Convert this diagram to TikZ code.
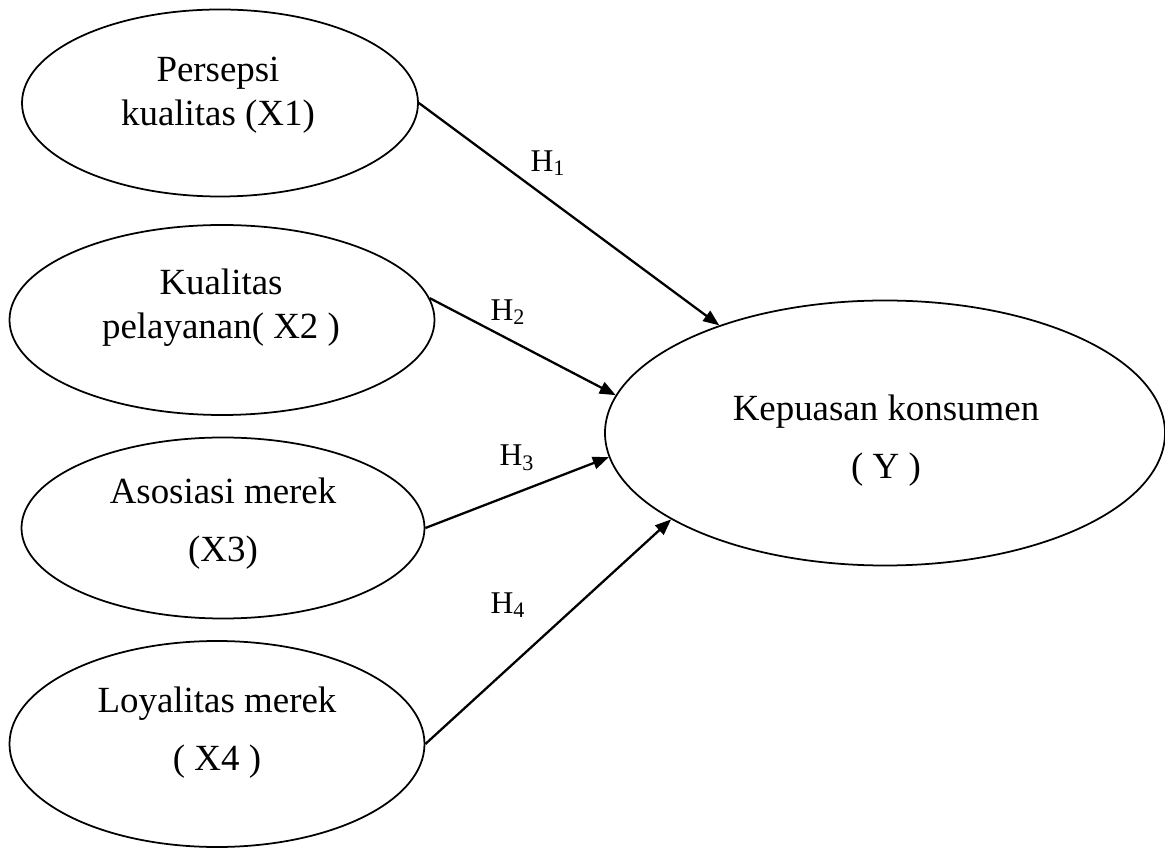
\documentclass[tikz,border=0pt]{standalone}
\usepackage{fontspec}
\setmainfont{Liberation Serif}
\usetikzlibrary{shapes.geometric,arrows.meta}

\begin{document}
\begin{tikzpicture}[oval/.style={ellipse,draw,line width=1pt,inner sep=0pt},
  lbl/.style={align=center,font=\fontsize{21}{25}\selectfont},
  hyp/.style={-{Triangle[length=0.32cm,width=0.25cm]},line width=1.3pt},
  hlbl/.style={font=\fontsize{18}{20}\selectfont}]

\useasboundingbox (0,0) rectangle (23.3,17);

% variabel bebas
\node[oval,minimum width=7.92cm,minimum height=3.74cm] (x1) at (4.40,14.94) {};
\node[oval,minimum width=8.50cm,minimum height=3.80cm] (x2) at (4.44,10.60) {};
\node[oval,minimum width=8.06cm,minimum height=3.62cm] (x3) at (4.46,6.44) {};
\node[oval,minimum width=8.30cm,minimum height=4.12cm] (x4) at (4.34,2.12) {};

\node[lbl] (t1) at (4.36,15.10) {Persepsi\\kualitas (X1)};
\node[lbl] (t2) at (4.42,10.85) {Kualitas\\pelayanan( X2 )};
\node[lbl] (t3) at (4.46,6.52) {Asosiasi merek\\[8pt](X3)};
\node[lbl] (t4) at (4.34,2.34) {Loyalitas merek\\[8pt]( X4 )};

% variabel terikat
\node[oval,minimum width=11.2cm,minimum height=5.30cm] (y) at (17.70,8.34) {};
\node[lbl] (ty) at (17.72,8.18) {Kepuasan konsumen\\[8pt]( Y )};

\draw[hyp] (x1.east) -- (y.147);
\draw[hyp] (x2.6) -- (y.172);
\draw[hyp] (x3.east) -- (y.185);
\draw[hyp] (x4.east) -- (y.202);

\node[hlbl] (h1) at (10.96,13.74) {H\textsubscript{1}};
\node[hlbl] (h2) at (10.16,10.76) {H\textsubscript{2}};
\node[hlbl] (h3) at (10.34,7.84) {H\textsubscript{3}};
\node[hlbl] (h4) at (10.16,4.90) {H\textsubscript{4}};

\end{tikzpicture}
\end{document}
